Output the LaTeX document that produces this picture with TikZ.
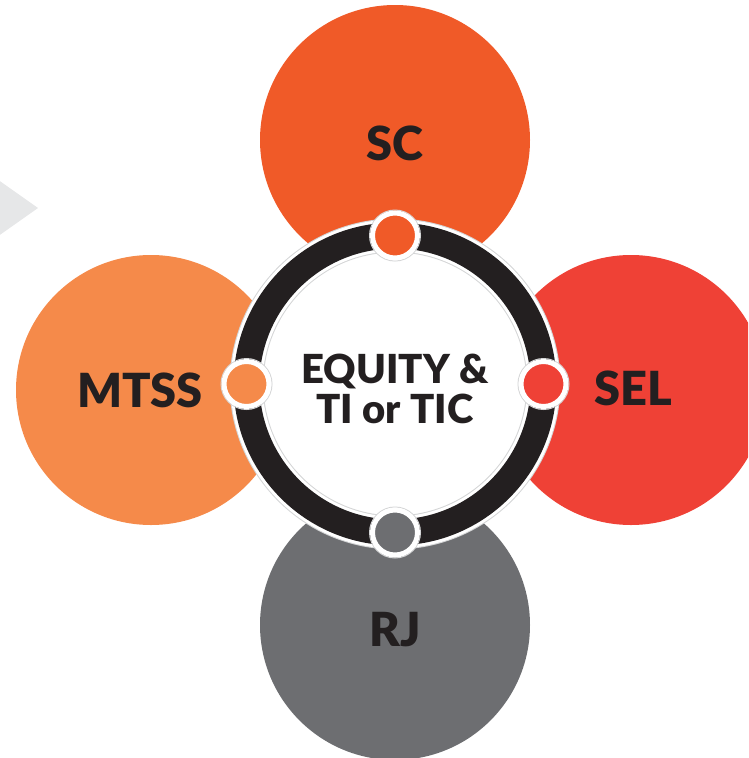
\documentclass[tikz,border=0pt]{standalone}
\usepackage{fontspec}
\setmainfont{Lato}
\newfontfamily\heavy{Lato Black}
\definecolor{scorange}{HTML}{F05A28}
\definecolor{selred}{HTML}{EF4136}
\definecolor{mtssorange}{HTML}{F58A4A}
\definecolor{rjgray}{HTML}{6D6E71}
\definecolor{ringblack}{HTML}{231F20}
\definecolor{edgegray}{HTML}{D4D5D6}
\definecolor{arrowgray}{HTML}{E6E7E8}
\tikzset{
  bigdisc/.style={circle,minimum size=270pt,inner sep=0pt},
  label/.style={text=ringblack,font=\fontsize{47}{47}\selectfont\heavy},
  joint/.style={circle,minimum size=45pt,inner sep=0pt,draw=white,line width=5pt},
  jointedge/.style={circle,minimum size=51pt,inner sep=0pt,draw=edgegray,line width=1pt}
}
\begin{document}
\begin{tikzpicture}[x=1pt,y=-1pt]
	\useasboundingbox (0,0) rectangle (748,758);
	\clip (0,0) rectangle (748,758);
	\fill[arrowgray] (-30,160)--(38,208)--(-30,256)--cycle;
	% outer circles
	\node[bigdisc,fill=scorange] (sc) at (395,140) {};
	\node[bigdisc,fill=selred] (sel) at (631,390) {};
	\node[bigdisc,fill=mtssorange] (mtss) at (151,390) {};
	\node[bigdisc,fill=rjgray] (rj) at (395,625) {};
	\node[label] at (395,143) {SC};
	\node[label] at (633,388) {SEL};
	\node[label] at (140,390) {MTSS};
	\node[label] at (395,630) {RJ};
	% ring in the middle
	\fill[white] (395,384) circle (136);
	\draw[edgegray,line width=34pt] (395,384) circle (148.5);
	\draw[white,line width=32pt] (395,384) circle (148.5);
	\draw[ringblack,line width=26pt] (395,384) circle (148.5);
	\node[align=center,text=ringblack,font=\fontsize{40}{40}\selectfont\heavy] (equity) at (395,389) {EQUITY \&\\TI or TIC};
	% joints on the ring
	\node[jointedge] at (395,235.5) {};
	\node[joint,fill=scorange] (scjoint) at (395,235.5) {};
	\node[jointedge] at (543.5,384) {};
	\node[joint,fill=selred] (seljoint) at (543.5,384) {};
	\node[jointedge] at (246.5,384) {};
	\node[joint,fill=mtssorange] (mtssjoint) at (246.5,384) {};
	\node[jointedge] at (395,532.5) {};
	\node[joint,fill=rjgray] (rjjoint) at (395,532.5) {};
\end{tikzpicture}
\end{document}
